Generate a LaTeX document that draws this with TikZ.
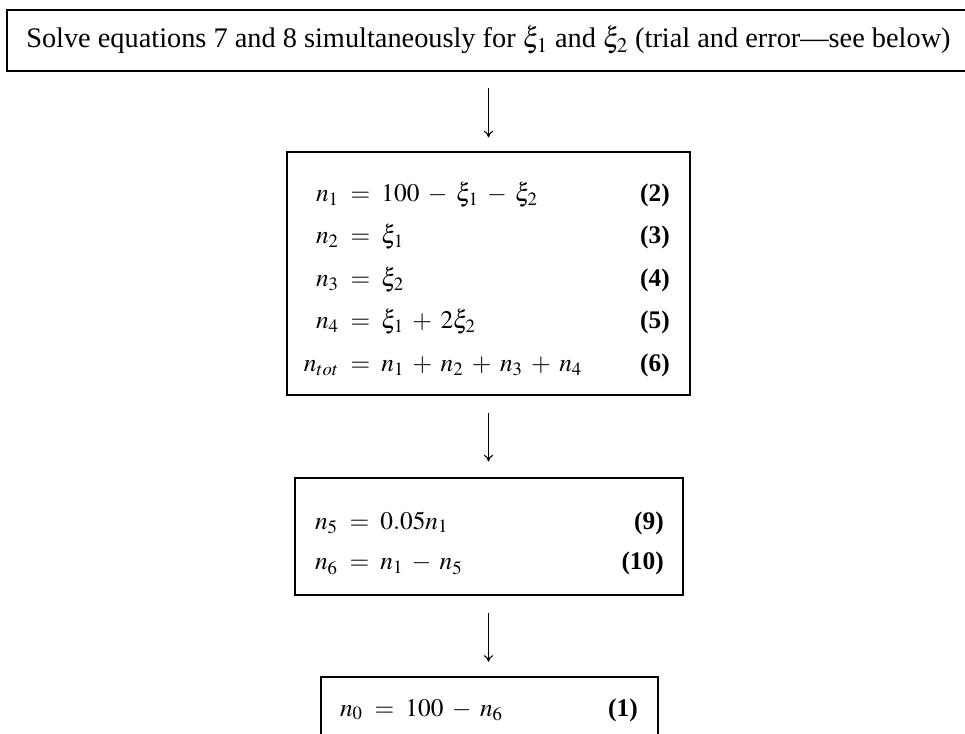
\documentclass[tikz,border=0pt]{standalone}
\usepackage{mathptmx}
\usepackage[no-math]{fontspec}
\setmainfont{Liberation Serif}
\usetikzlibrary{arrows.meta,fit}
\begin{document}
\begin{tikzpicture}[x=0.75pt,y=-0.75pt,
  box/.style={draw,line width=0.8pt,inner sep=0pt},
  eqtext/.style={inner sep=0pt,font=\fontsize{19}{23}\selectfont,
    execute at begin node={\medmuskip=6mu\relax}},
  eqnum/.style={inner sep=0pt,anchor=base east,font=\fontsize{19}{23}\selectfont\bfseries},
  lhs/.style={eqtext,anchor=base east},
  rhs/.style={eqtext,anchor=base west},
  flow/.style={line width=0.8pt,-{To[length=5pt,width=7pt]}}]
\useasboundingbox[fill=white] (0,0) rectangle (965,734);
% top box
\node[box, fit={(7,10) (975,71)}] (top) {};
\node[inner sep=0pt, anchor=base west, font=\fontsize{21.25}{26}\selectfont] (toptext) at (26,48)
  {Solve equations 7 and 8 simultaneously for $\xi_1$ and $\xi_2$ (trial and error---see below)};
% box 2
\node[box, fit={(287,152) (690,395)}] (b2) {};
\node[lhs] (l2) at (339,202) {$n_1$};
\node[rhs] (r2) at (339,202) {${}\;=\;100-\xi_1-\xi_2$};
\node[eqnum] (e2) at (670,202) {(2)};
\node[lhs] (l3) at (339,244) {$n_2$};
\node[rhs] (r3) at (339,244) {${}\;=\;\xi_1$};
\node[eqnum] (e3) at (670,244) {(3)};
\node[lhs] (l4) at (339,287) {$n_3$};
\node[rhs] (r4) at (339,287) {${}\;=\;\xi_2$};
\node[eqnum] (e4) at (670,287) {(4)};
\node[lhs] (l5) at (339,329) {$n_4$};
\node[rhs] (r5) at (339,329) {${}\;=\;\xi_1+2\xi_2$};
\node[eqnum] (e5) at (670,329) {(5)};
\node[lhs] (l6) at (339,372) {$n_{tot}$};
\node[rhs] (r6) at (339,372) {${}\;=\;n_1+n_2+n_3+n_4$};
\node[eqnum] (e6) at (670,372) {(6)};
% box 3
\node[box, fit={(295,478) (683,595)}] (b3) {};
\node[lhs] (l9) at (338,529) {$n_5$};
\node[rhs] (r9) at (338,529) {${}\;=\;0.05n_1$};
\node[eqnum] (e9) at (664,529) {(9)};
\node[lhs] (l10) at (338,570) {$n_6$};
\node[rhs] (r10) at (338,570) {${}\;=\;n_1-n_5$};
\node[eqnum] (e10) at (664,570) {(10)};
% box 4
\node[box, fit={(321,677) (658,760)}] (b4) {};
\node[lhs] (l1) at (363,716) {$n_0$};
\node[rhs] (r1) at (363,716) {${}\;=\;100-n_6$};
\node[eqnum] (e1) at (638,716) {(1)};
% arrows
\draw[flow, shorten <=12pt, shorten >=10.5pt] (top.south -| b2.north) -- (b2.north);
\draw[flow, shorten <=12.75pt, shorten >=12pt] (b2.south) -- (b3.north -| b2.south);
\draw[flow, shorten <=12.75pt, shorten >=11pt] (b3.south -| b2.south) -- (b4.north -| b2.south);
\end{tikzpicture}
\end{document}
